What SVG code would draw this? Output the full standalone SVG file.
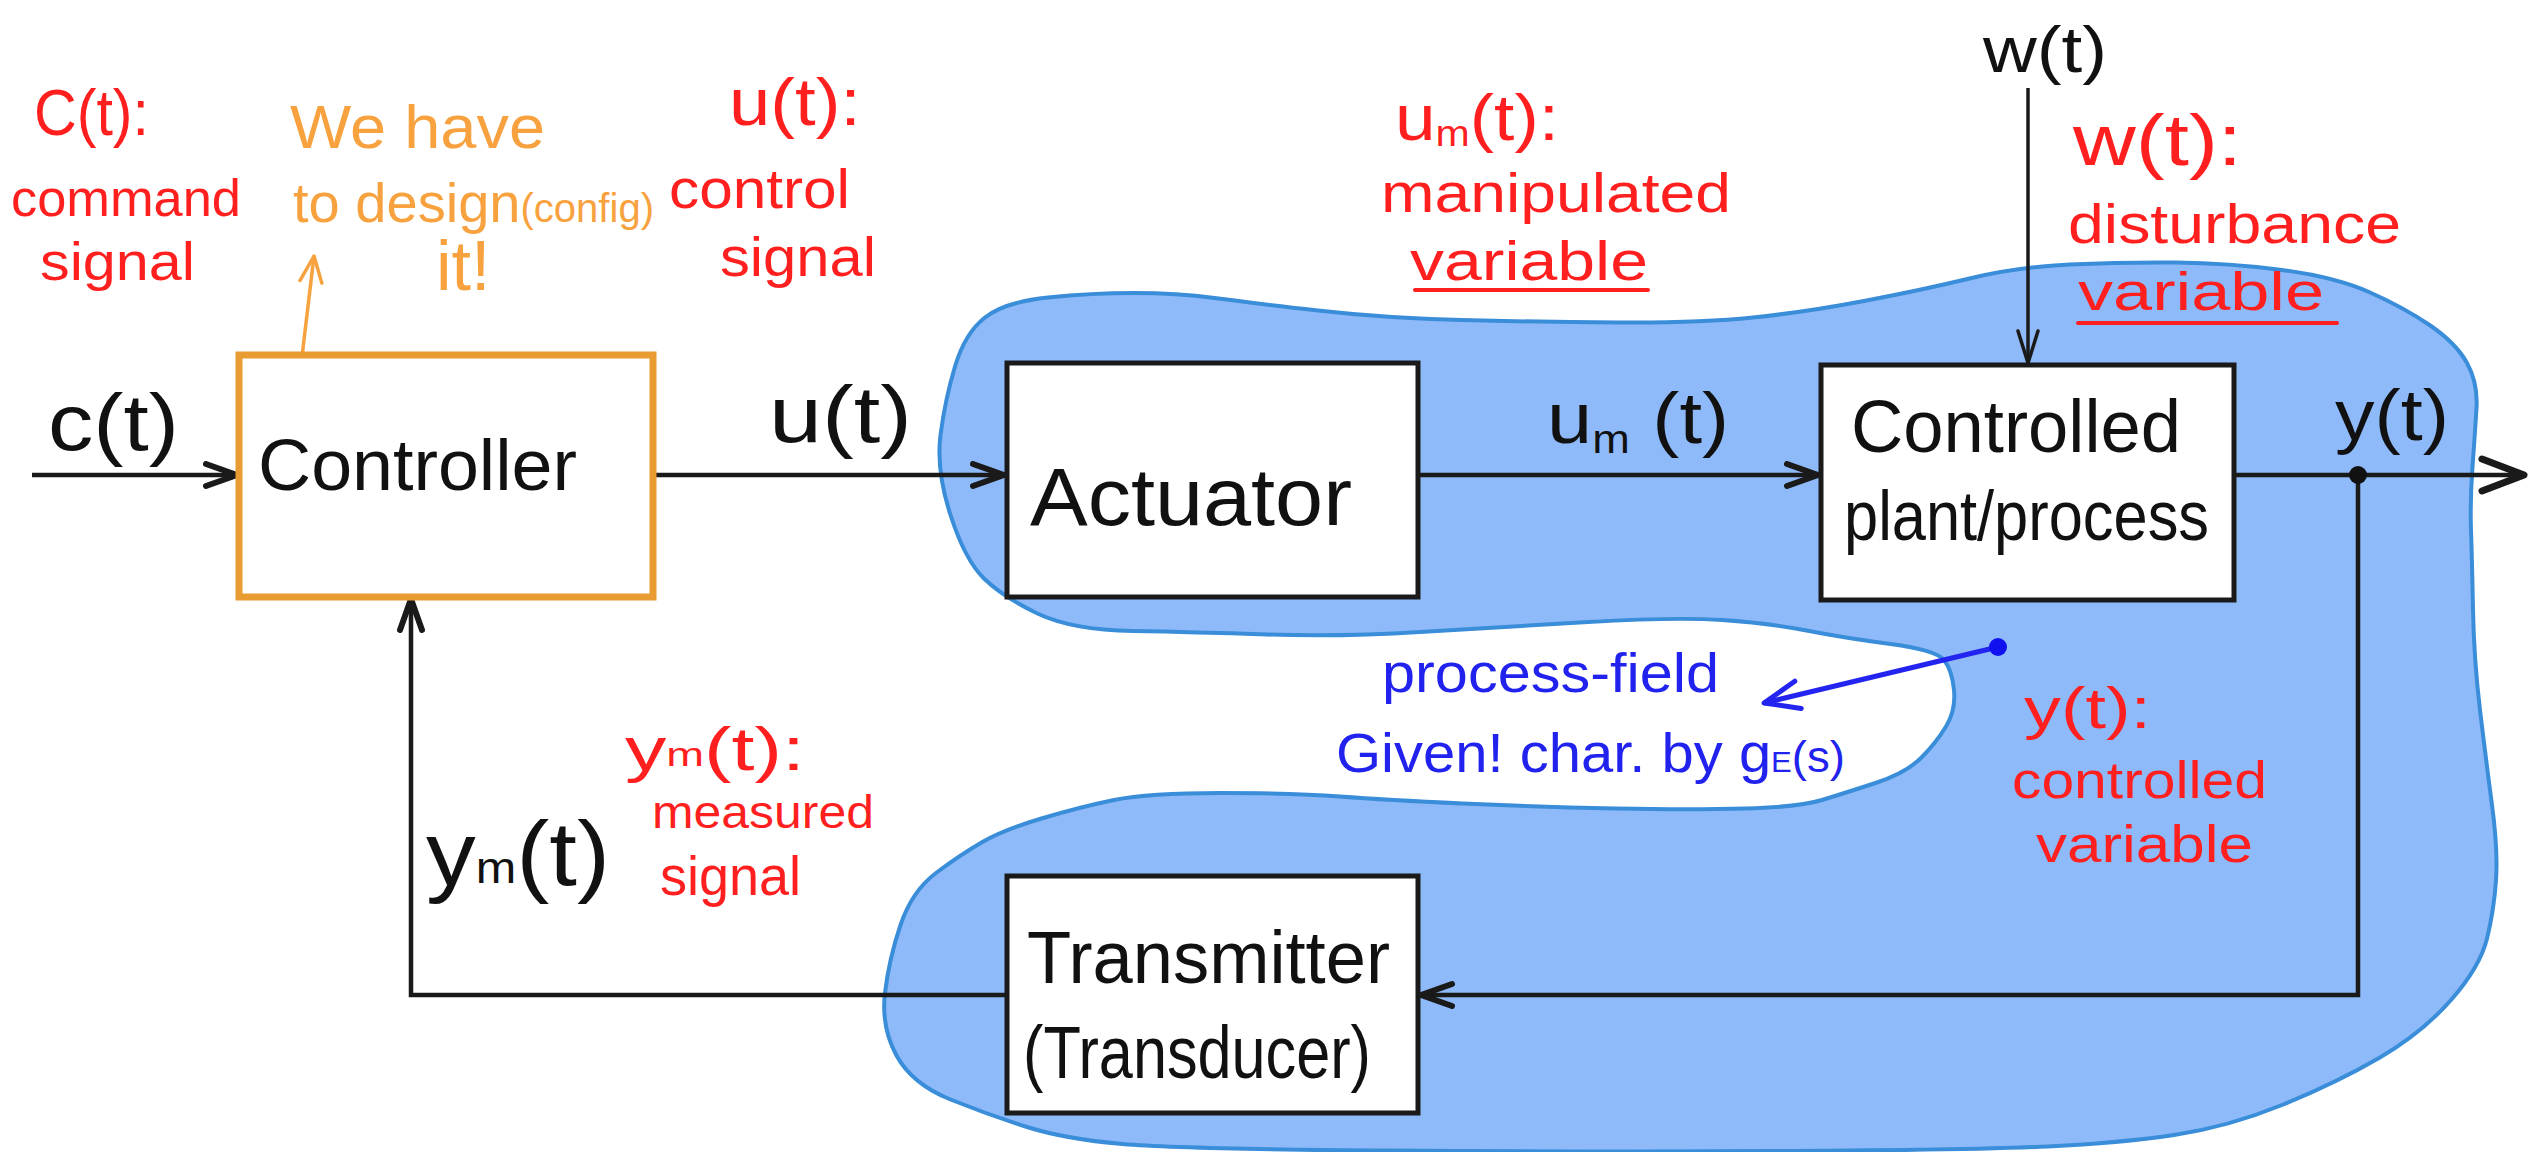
<svg xmlns="http://www.w3.org/2000/svg" width="2529" height="1152" viewBox="0 0 2529 1152">
<style>
.lbl{font-family:"Liberation Sans","DejaVu Sans",sans-serif;}
.blk{fill:#111;}
.red{fill:#ff1f1f;}
.org{fill:#f7a23e;}
.blu{fill:#2222ee;}
.box{fill:#fff;stroke:#1a1a1a;stroke-width:5;}
.wire{fill:none;stroke:#1a1a1a;stroke-width:4.5;}
</style>
<defs>
<marker id="ah" markerUnits="userSpaceOnUse" markerWidth="44" markerHeight="34" refX="34" refY="14" orient="auto" viewBox="0 0 44 34">
<path d="M3,3 L34,14 L3,25" fill="none" stroke="#1a1a1a" stroke-width="6" stroke-linecap="round" stroke-linejoin="round"/>
</marker>
<marker id="ahThin" markerUnits="userSpaceOnUse" markerWidth="40" markerHeight="30" refX="34" refY="12" orient="auto" viewBox="0 0 40 30">
<path d="M2,2 L34,12 L2,22" fill="none" stroke="#1a1a1a" stroke-width="3.5" stroke-linecap="round" stroke-linejoin="round"/>
</marker>
<marker id="ahBig" markerUnits="userSpaceOnUse" markerWidth="60" markerHeight="44" refX="46" refY="20" orient="auto" viewBox="0 0 60 44">
<path d="M4,4 L46,20 L4,36" fill="none" stroke="#1a1a1a" stroke-width="7" stroke-linecap="round" stroke-linejoin="round"/>
</marker>
<marker id="ahOrg" markerUnits="userSpaceOnUse" markerWidth="40" markerHeight="30" refX="28" refY="13" orient="auto" viewBox="0 0 40 30">
<path d="M2,2 L28,13 L2,24" fill="none" stroke="#f7a23e" stroke-width="3.5" stroke-linecap="round" stroke-linejoin="round"/>
</marker>
<marker id="ahBlu" markerUnits="userSpaceOnUse" markerWidth="50" markerHeight="40" refX="38" refY="17" orient="auto" viewBox="0 0 50 40">
<path d="M3,3 L38,17 L3,31" fill="none" stroke="#2424f0" stroke-width="5" stroke-linecap="round" stroke-linejoin="round"/>
</marker>
</defs>

<g id="process-field">
<path d="M950.5,515 Q936,470 940.5,435 Q945,400 955,366.5 Q965,333 985,317.5 Q1005,302 1048,297.5 Q1091,293 1134,293 Q1177,293 1214.5,298 Q1252,303 1318,310.5 Q1384,318 1461.5,320 Q1539,322 1619.5,322.5 Q1700,323 1753,317.5 Q1806,312 1864,301 Q1922,290 1969.5,278.5 Q2017,267 2070,264.5 Q2123,262 2176,262.5 Q2229,263 2282,270 Q2335,277 2369,292 Q2403,307 2429.5,325 Q2456,343 2467,363 Q2478,383 2476.5,408 Q2475,433 2472.5,466.5 Q2470,500 2471,530 Q2472,560 2473,610 Q2474,660 2480,710 Q2486,760 2492,805 Q2498,850 2496,880 Q2494,910 2487,938.5 Q2480,967 2451,1000 Q2422,1033 2379,1058 Q2336,1083 2282,1105 Q2228,1127 2174,1135 Q2120,1143 2048,1146.5 Q1976,1150 1788,1151 Q1600,1152 1390,1150.5 Q1180,1149 1122.5,1144 Q1065,1139 1027,1127 Q989,1115 950.5,1099.5 Q912,1084 896.5,1055.5 Q881,1027 885,993 Q889,959 900.5,925 Q912,891 936,873 Q960,855 981.5,842.5 Q1003,830 1041.5,818.5 Q1080,807 1114,800 Q1148,793 1221,793 Q1294,793 1340,796.5 Q1386,800 1462.5,803.5 Q1539,807 1615.5,808.5 Q1692,810 1745.5,808.5 Q1799,807 1822,800 Q1845,793 1875.5,783 Q1906,773 1921,758 Q1936,743 1946,726.5 Q1956,710 1954,690 Q1952,670 1944,660 Q1936,650 1890.5,644 Q1845,638 1806.5,630.5 Q1768,623 1722,620 Q1676,617 1588,622 Q1500,627 1420,632 Q1340,637 1267,634.5 Q1194,632 1133,631 Q1072,630 1037.5,613.5 Q1003,597 984,578.5 Q965,560 950.5,515 Z" fill="#8fbafa" stroke="#3a8dd8" stroke-width="4" stroke-linejoin="round"/>
<text class="lbl blu" x="1382" y="692" font-size="56" textLength="337" lengthAdjust="spacingAndGlyphs">process-field</text>
<text class="lbl blu" x="1336" y="772" font-size="56" textLength="509" lengthAdjust="spacingAndGlyphs">Given! char. by g<tspan font-size="30">E</tspan><tspan font-size="44">(s)</tspan></text>
<line x1="1998" y1="647" x2="1764" y2="703" stroke="#2424f0" stroke-width="5" marker-end="url(#ahBlu)"/>
<circle cx="1998" cy="647" r="9" fill="#1010f0"/>
</g>

<g id="connectors">
<line class="wire" x1="32" y1="475" x2="237" y2="475" marker-end="url(#ah)"/>
<line class="wire" x1="653" y1="475" x2="1004" y2="475" marker-end="url(#ah)"/>
<line class="wire" x1="1419" y1="475" x2="1818" y2="475" marker-end="url(#ah)"/>
<line class="wire" x1="2234" y1="475" x2="2524" y2="475" marker-end="url(#ahBig)"/>
<line x1="2028" y1="88" x2="2028" y2="363" stroke="#1a1a1a" stroke-width="3.5" marker-end="url(#ahThin)"/>
<polyline class="wire" points="2358,475 2358,995 1421,995" marker-end="url(#ah)"/>
<polyline class="wire" points="1006,995 411,995 411,599" marker-end="url(#ah)"/>
<circle cx="2358" cy="475" r="9" fill="#111"/>
<line x1="298" y1="390" x2="314" y2="256" stroke="#f7a23e" stroke-width="3.5" marker-end="url(#ahOrg)"/>
</g>

<g id="controller">
<rect x="239" y="355" width="414" height="242" fill="#fff" stroke="#e89c32" stroke-width="7"/>
<text class="lbl blk" x="258" y="490" font-size="72" textLength="319" lengthAdjust="spacingAndGlyphs">Controller</text>
</g>

<g id="actuator">
<rect class="box" x="1007" y="363" width="411" height="234"/>
<text class="lbl blk" x="1030" y="525" font-size="82" textLength="322" lengthAdjust="spacingAndGlyphs">Actuator</text>
</g>

<g id="plant">
<rect class="box" x="1821" y="365" width="413" height="235"/>
<text class="lbl blk" x="1851" y="452" font-size="74" textLength="330" lengthAdjust="spacingAndGlyphs">Controlled</text>
<text class="lbl blk" x="1844" y="540" font-size="70" textLength="365" lengthAdjust="spacingAndGlyphs">plant/process</text>
</g>

<g id="transmitter">
<rect class="box" x="1007" y="876" width="411" height="237"/>
<text class="lbl blk" x="1027" y="983" font-size="74" textLength="363" lengthAdjust="spacingAndGlyphs">Transmitter</text>
<text class="lbl blk" x="1023" y="1078" font-size="74" textLength="348" lengthAdjust="spacingAndGlyphs">(Transducer)</text>
</g>

<g id="signal-labels">
<text class="lbl blk" x="48" y="450" font-size="80" textLength="131" lengthAdjust="spacingAndGlyphs">c(t)</text>
<text class="lbl blk" x="769" y="442" font-size="80" textLength="143" lengthAdjust="spacingAndGlyphs">u(t)</text>
<text class="lbl blk" x="1547" y="443" font-size="72" textLength="182" lengthAdjust="spacingAndGlyphs">u<tspan font-size="40" dy="10">m</tspan><tspan dy="-10"> (t)</tspan></text>
<text class="lbl blk" x="2335" y="440" font-size="72" textLength="114" lengthAdjust="spacingAndGlyphs">y(t)</text>
<text class="lbl blk" x="1983" y="72" font-size="64" textLength="124" lengthAdjust="spacingAndGlyphs">w(t)</text>
<text class="lbl blk" x="426" y="885" font-size="90" textLength="184" lengthAdjust="spacingAndGlyphs">y<tspan font-size="44" dy="-2">m</tspan><tspan dy="2">(t)</tspan></text>
</g>

<g id="annotations">
<text class="lbl red" x="34" y="135" font-size="64" textLength="115" lengthAdjust="spacingAndGlyphs">C(t):</text>
<text class="lbl red" x="11" y="216" font-size="52" textLength="230" lengthAdjust="spacingAndGlyphs">command</text>
<text class="lbl red" x="40" y="280" font-size="54" textLength="155" lengthAdjust="spacingAndGlyphs">signal</text>

<text class="lbl org" x="290" y="148" font-size="62" textLength="255" lengthAdjust="spacingAndGlyphs">We have</text>
<text class="lbl org" x="293" y="222" font-size="56" textLength="361" lengthAdjust="spacingAndGlyphs">to design<tspan font-size="40">(config)</tspan></text>
<text class="lbl org" x="436" y="290" font-size="70">it!</text>

<text class="lbl red" x="729" y="125" font-size="66" textLength="132" lengthAdjust="spacingAndGlyphs">u(t):</text>
<text class="lbl red" x="669" y="208" font-size="56" textLength="181" lengthAdjust="spacingAndGlyphs">control</text>
<text class="lbl red" x="720" y="276" font-size="56" textLength="156" lengthAdjust="spacingAndGlyphs">signal</text>

<text class="lbl red" x="1395" y="140" font-size="64" textLength="164" lengthAdjust="spacingAndGlyphs">u<tspan font-size="36" dy="6">m</tspan><tspan dy="-6">(t):</tspan></text>
<text class="lbl red" x="1381" y="212" font-size="56" textLength="350" lengthAdjust="spacingAndGlyphs">manipulated</text>
<text class="lbl red" x="1410" y="280" font-size="56" textLength="238" lengthAdjust="spacingAndGlyphs">variable</text>
<line x1="1415" y1="290" x2="1648" y2="290" stroke="#ff1f1f" stroke-width="4" stroke-linecap="round"/>

<text class="lbl red" x="2073" y="165" font-size="72" textLength="169" lengthAdjust="spacingAndGlyphs">w(t):</text>
<text class="lbl red" x="2068" y="243" font-size="56" textLength="333" lengthAdjust="spacingAndGlyphs">disturbance</text>
<text class="lbl red" x="2078" y="310" font-size="54" textLength="246" lengthAdjust="spacingAndGlyphs">variable</text>
<line x1="2078" y1="323" x2="2337" y2="323" stroke="#ff1f1f" stroke-width="4" stroke-linecap="round"/>

<text class="lbl red" x="2024" y="728" font-size="58" textLength="127" lengthAdjust="spacingAndGlyphs">y(t):</text>
<text class="lbl red" x="2012" y="798" font-size="52" textLength="255" lengthAdjust="spacingAndGlyphs">controlled</text>
<text class="lbl red" x="2036" y="862" font-size="52" textLength="217" lengthAdjust="spacingAndGlyphs">variable</text>

<text class="lbl red" x="625" y="770" font-size="62" textLength="180" lengthAdjust="spacingAndGlyphs">y<tspan font-size="34" dy="-4">m</tspan><tspan dy="4">(t):</tspan></text>
<text class="lbl red" x="652" y="828" font-size="46" textLength="222" lengthAdjust="spacingAndGlyphs">measured</text>
<text class="lbl red" x="660" y="895" font-size="56" textLength="141" lengthAdjust="spacingAndGlyphs">signal</text>
</g>
</svg>
